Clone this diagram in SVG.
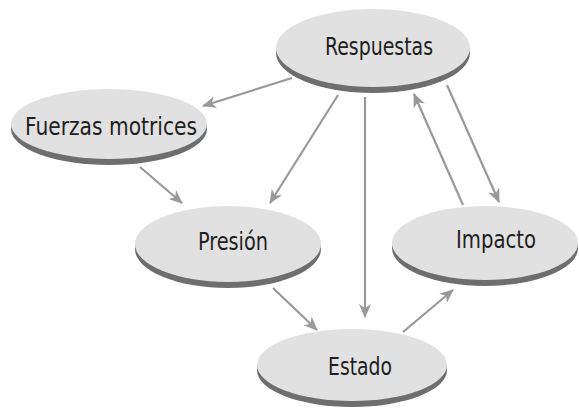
<svg xmlns="http://www.w3.org/2000/svg" width="579" height="411" viewBox="0 0 579 411">
<style>
.sh{fill:#6e6e6e}
.face{fill:#e1e1e1}
.lbl{font-family:"DejaVu Sans Condensed","Liberation Sans",sans-serif;font-size:24px;fill:#1e1e1e;text-anchor:middle;font-stretch:condensed}
.c{stroke:#999;stroke-width:2.2;fill:none;marker-end:url(#ah)}
</style>
<defs>
<marker id="ah" markerUnits="userSpaceOnUse" viewBox="0 0 14 12" refX="13" refY="6" markerWidth="14" markerHeight="12" orient="auto">
<path d="M0,0 L14,6 L0,12 L4,6 z" fill="#999"/>
</marker>
</defs>
<rect width="579" height="411" fill="#fff"/>
<g id="connectors">
<line class="c" x1="292" y1="78" x2="203" y2="106"/>
<line class="c" x1="140" y1="167" x2="182" y2="203"/>
<line class="c" x1="338" y1="95" x2="270" y2="203"/>
<line class="c" x1="365" y1="97" x2="365" y2="317"/>
<line class="c" x1="463" y1="205" x2="414" y2="94"/>
<line class="c" x1="447" y1="85" x2="499" y2="202"/>
<line class="c" x1="273" y1="288" x2="317" y2="330"/>
<line class="c" x1="403" y1="332" x2="453" y2="290"/>
</g>
<g id="respuestas">
<ellipse class="sh" cx="373" cy="53" rx="97" ry="40"/>
<ellipse class="face" cx="373" cy="48" rx="97" ry="39"/>
<text class="lbl" x="379" y="55" textLength="108" lengthAdjust="spacingAndGlyphs">Respuestas</text>
</g>
<g id="fuerzas">
<ellipse class="sh" cx="109" cy="129" rx="98" ry="36"/>
<ellipse class="face" cx="109" cy="124" rx="98" ry="35"/>
<text class="lbl" x="111" y="135" textLength="172" lengthAdjust="spacingAndGlyphs">Fuerzas motrices</text>
</g>
<g id="presion">
<ellipse class="sh" cx="228" cy="249" rx="93" ry="39"/>
<ellipse class="face" cx="228" cy="244" rx="93" ry="38"/>
<text class="lbl" x="233" y="250" textLength="70" lengthAdjust="spacingAndGlyphs">Presión</text>
</g>
<g id="impacto">
<ellipse class="sh" cx="485" cy="248" rx="93" ry="38"/>
<ellipse class="face" cx="485" cy="243" rx="93" ry="37"/>
<text class="lbl" x="496" y="248" textLength="80" lengthAdjust="spacingAndGlyphs">Impacto</text>
</g>
<g id="estado">
<ellipse class="sh" cx="352" cy="370" rx="95" ry="37"/>
<ellipse class="face" cx="352" cy="365" rx="95" ry="36"/>
<text class="lbl" x="360" y="375" textLength="64" lengthAdjust="spacingAndGlyphs">Estado</text>
</g>
</svg>
